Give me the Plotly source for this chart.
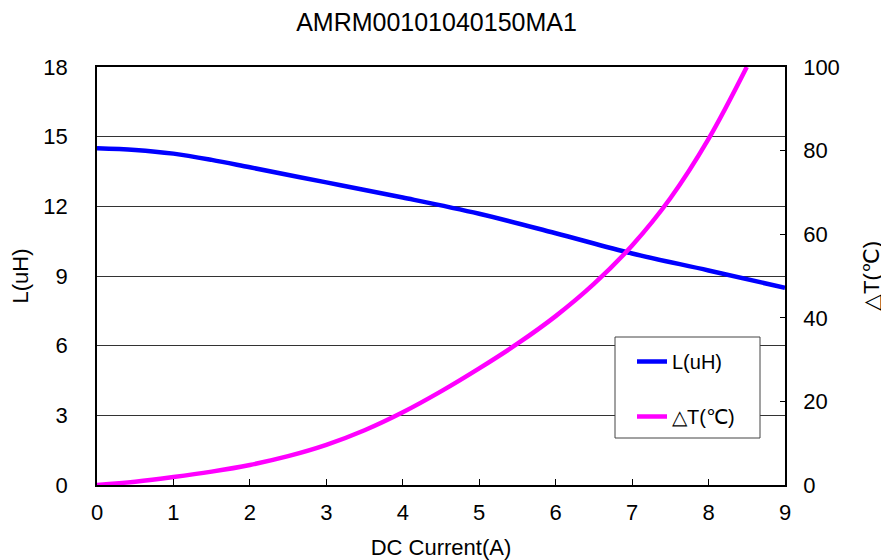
import plotly.graph_objects as go

# Data
current_L = [0, 0.5, 1, 1.5, 2, 3, 4, 5, 6, 7, 8, 9]
inductance = [14.5, 14.43, 14.27, 14.0, 13.68, 13.03, 12.38, 11.68, 10.84, 9.97, 9.24, 8.49]

current_T = [0, 0.5, 1, 1.5, 2, 2.5, 3, 3.5, 4, 4.5, 5, 5.5, 6, 6.5, 7, 7.5, 8, 8.5]
delta_T = [0, 0.8, 1.9, 3.2, 4.8, 6.9, 9.6, 13.1, 17.4, 22.4, 27.9, 33.8, 40.4, 48.1, 57.3, 68.6, 82.8, 100]

title_text = "AMRM00101040150MA1"
x_title = "DC Current(A)"
y_title = "L(uH)"
y2_title = "△T(℃)"
name_L = "L(uH)"
name_T = "△T(℃)"

FONT = "Liberation Sans, Arial, sans-serif"

# the page body adds an 8px margin: work in page pixels, subtract it
OFF = 8
W, H = 889 - OFF, 560 - OFF
L_PX, R_PX, T_PX, B_PX = 97 - OFF, 785 - OFF, 67 - OFF, 485 - OFF
PW, PH = R_PX - L_PX, B_PX - T_PX


def px_x(p):
    return (p - OFF - L_PX) / PW


def px_y(p):
    return (B_PX - (p - OFF)) / PH


fig = go.Figure()
fig.add_trace(go.Scatter(
    x=current_L, y=inductance, name=name_L, mode="lines",
    line=dict(color="#0000FF", width=4.5, shape="spline", smoothing=1.0),
    legendgroup="a", yaxis="y"))
fig.add_trace(go.Scatter(
    x=current_T, y=delta_T, name=name_T, mode="lines",
    line=dict(color="#FF00FF", width=4.5, shape="spline", smoothing=1.0),
    legendgroup="b", yaxis="y2"))

# legend frame
fig.add_shape(type="rect", xref="paper", yref="paper",
              x0=px_x(615), x1=px_x(760), y0=px_y(438), y1=px_y(337),
              line=dict(color="#444444", width=1), fillcolor="white", layer="above")

fig.update_layout(
    width=W, height=H,
    margin=dict(l=L_PX, r=W - R_PX, t=T_PX, b=H - B_PX, autoexpand=False),
    paper_bgcolor="white", plot_bgcolor="white",
    font=dict(family=FONT, size=22, color="black"),
    title=dict(text=title_text, x=(436.5 - OFF) / W, xanchor="center",
               y=1 - (22 - OFF) / H, yref="container", yanchor="middle",
               font=dict(size=25, family=FONT, color="black")),
    xaxis=dict(range=[0, 9], dtick=1, tick0=0, showgrid=False, automargin=False,
               showline=True, linecolor="black", linewidth=1.5, mirror=True,
               ticks="inside", ticklen=6, tickcolor="black", tickwidth=1,
               zeroline=False, ticklabelstandoff=7,
               title=dict(text=x_title, standoff=18, font=dict(size=22))),
    yaxis=dict(range=[0, 18], dtick=3, tick0=0, showgrid=True, automargin=False,
               gridcolor="#333333", gridwidth=1,
               showline=True, linecolor="black", linewidth=1.5,
               ticks="", zeroline=False, ticklabelstandoff=23,
               title=dict(text=y_title, standoff=12, font=dict(size=22))),
    yaxis2=dict(range=[0, 100], dtick=20, tick0=0, overlaying="y", side="right",
                automargin=False,
                showgrid=False, showline=True, linecolor="black", linewidth=1.5,
                ticks="inside", ticklen=5, tickcolor="black", tickwidth=1,
                zeroline=False, ticklabelstandoff=12,
                title=dict(text=y2_title, standoff=25, font=dict(size=22))),
    legend=dict(x=px_x(632), y=px_y(342), xref="paper", yref="paper",
                xanchor="left", yanchor="top",
                bgcolor="rgba(0,0,0,0)", borderwidth=0,
                font=dict(size=20, family=FONT, color="black"),
                traceorder="grouped", tracegroupgap=26),
    showlegend=True,
)

fig.write_html("out.html")
